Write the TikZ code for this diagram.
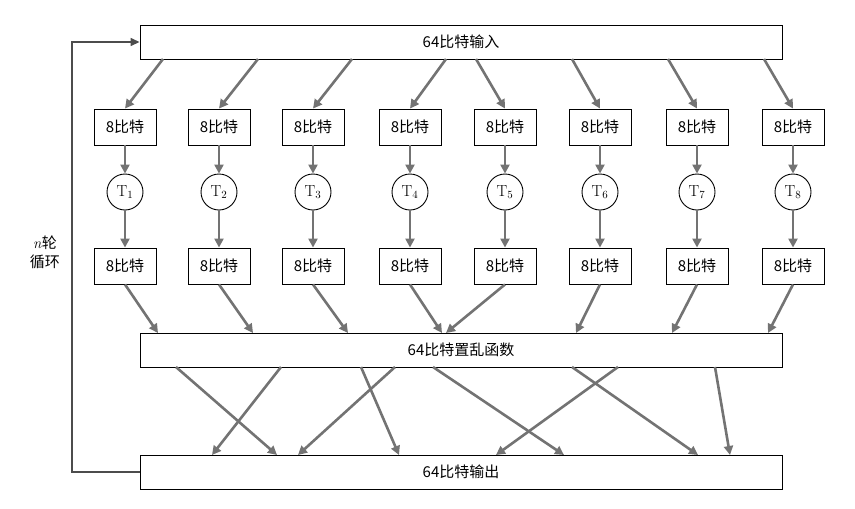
\documentclass[tikz,border=0pt]{standalone}
\usepackage{fontspec}
\newfontfamily\cjk{Noto Sans CJK SC}
\usetikzlibrary{arrows.meta}
\begin{document}
\begin{tikzpicture}[x=1pt,y=-1pt,
  box/.style={draw,line width=0.9pt,inner sep=0,font=\cjk\fontsize{15}{15}\selectfont},
  sbox/.style={box,minimum width=62,minimum height=36},
  wide/.style={box,minimum width=642,minimum height=34},
  circ/.style={draw,circle,line width=0.9pt,minimum size=36,inner sep=0,font=\fontsize{16}{16}\selectfont},
  arr/.style={draw=black!55,line width=2.6pt,-{Triangle[length=9pt,width=9pt]}}]
\useasboundingbox (0,0) rectangle (855,509);
\node[wide] (in) at (461,42) {64比特输入};
\node[wide] (perm) at (461,350) {64比特置乱函数};
\node[wide] (out) at (461,472) {64比特输出};
\foreach \i/\x in {1/125,2/219,3/313,4/410,5/505,6/600,7/697,8/793}{
  \node[sbox] (a\i) at (\x,127) {8比特};
  \node[circ] (t\i) at (\x,192) {T$_{\i}$};
  \node[sbox] (b\i) at (\x,266) {8比特};
  \draw[arr] (a\i) -- (t\i);
  \draw[arr] (t\i) -- (b\i);
}
\foreach \i/\s in {1/163,2/258,3/352,4/446,5/476,6/572,7/668,8/764}{
  \coordinate (s\i) at (\s,59);
  \draw[arr] (s\i) -- (a\i.north);
}
\foreach \i/\e in {1/158,2/253,3/348,4/442,5/446,6/576,7/672,8/768}{
  \coordinate (e\i) at (\e,333);
  \draw[arr] (b\i.south) -- (e\i);
}
\foreach \k/\p/\q in {1/176/277,2/281/212,3/361/399,4/395/298,5/433/564,6/572/698,7/618/496,8/715/730}{
  \coordinate (p\k) at (\p,367);
  \coordinate (q\k) at (\q,455);
  \draw[arr] (p\k) -- (q\k);
}
\coordinate (l1) at (72,472);
\coordinate (l2) at (72,42);
\draw[line width=1.4pt,black!70,-{Triangle[length=9pt,width=8pt]}] (out.west) -- (l1) -- (l2) -- (in.west);
\node[align=center,fill=white,inner sep=2pt,font=\cjk\fontsize{15}{19}\selectfont] (lab) at (45,252) {\textit{\rmfamily n}轮\\循环};
\end{tikzpicture}
\end{document}
